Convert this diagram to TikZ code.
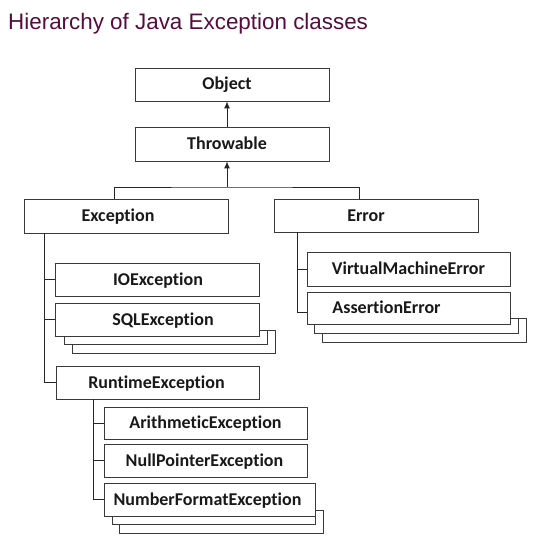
\documentclass[tikz,border=0pt]{standalone}
\usepackage{fontspec}
\setmainfont[Ligatures=NoCommon]{Carlito}
\newfontfamily\titlefont{Liberation Sans}
\usetikzlibrary{arrows.meta,calc}
\definecolor{titlecol}{HTML}{560C3E}
\definecolor{boxline}{HTML}{3A3A3A}
\tikzset{
  boxnode/.style={draw=boxline, line width=0.9pt, fill=white, inner sep=0pt},
  txtnode/.style={font=\fontsize{18}{20}\selectfont\bfseries, text=black!90, inner sep=0pt, anchor=base},
  shadowbox/.style={draw=boxline, line width=0.9pt, fill=white},
  conn/.style={draw=black!85, line width=0.9pt},
  arr/.style={conn, -{Latex[length=7pt,width=6pt]}}
}
% \bx{name}{x1}{y1}{x2}{y2}{text centre x}{text}
\newcommand\bx[7]{%
  \node[boxnode, minimum width={(#4-#2)*1pt}, minimum height={(#5-#3)*1pt}] (#1) at ({(#2+#4)/2},{(#3+#5)/2}) {};
  \node[txtnode] (#1-t) at (#6,{(#3+#5)/2+5.5}) {#7};
}
\begin{document}
\begin{tikzpicture}[x=1pt,y=-1pt]
\useasboundingbox (0,0) rectangle (547,553);
\node[font=\titlefont\fontsize{22.4}{26}\selectfont, text=titlecol, anchor=base west, inner sep=0pt] (title) at (8,29.5) {Hierarchy of Java Exception classes};

% shadows
\draw[shadowbox] (72,330) rectangle (275,353);
\draw[shadowbox] (64,330) rectangle (267,344);
\draw[shadowbox] (322,318) rectangle (526,342);
\draw[shadowbox] (314,318) rectangle (518,333);
\draw[shadowbox] (119,510) rectangle (323,533);
\draw[shadowbox] (112,510) rectangle (315,524);

\bx{obj}{135}{68}{329}{101}{227}{Object}
\bx{thr}{135}{127}{329}{161}{227}{Throwable}
\bx{exc}{24}{199}{228}{233}{118}{Exception}
\bx{err}{274}{199}{478}{232}{366}{Error}
\bx{io}{55}{263}{259}{296}{158}{IOException}
\bx{sql}{55}{303}{259}{336}{163}{SQLException}
\bx{vme}{307}{252}{510}{286}{408.5}{VirtualMachineError}
\bx{ass}{307}{292}{510}{324}{386.5}{AssertionError}
\bx{rte}{56}{366}{259}{399}{156.5}{RuntimeException}
\bx{ari}{104}{407}{307}{439}{205.5}{ArithmeticException}
\bx{npe}{104}{444}{307}{477}{204.5}{NullPointerException}
\bx{nfe}{104}{483}{315}{516}{207.5}{NumberFormatException}

% connectors
\coordinate (br) at (227,187);
\draw[arr] (thr.north -| br) -- (obj.south -| br);
\draw[arr] (br) -- (thr.south -| br);
\draw[conn] (exc.north -| 114,0) |- (br) -| (err.north -| 359,0);

\coordinate (ev) at (44,233);
\draw[conn] (ev) |- (rte.west);
\draw[conn] (ev |- io.west) -- (io.west);
\draw[conn] (ev |- sql.west) -- (sql.west);

\coordinate (erv) at (297,232);
\draw[conn] (erv) |- ($(ass.west)+(0,4.5)$);
\draw[conn] (erv |- vme.west) -- (vme.west);

\coordinate (rv) at (93,399);
\draw[conn] (rv) |- (nfe.west);
\draw[conn] (rv |- ari.west) -- (ari.west);
\draw[conn] (rv |- npe.west) -- (npe.west);
\end{tikzpicture}
\end{document}
